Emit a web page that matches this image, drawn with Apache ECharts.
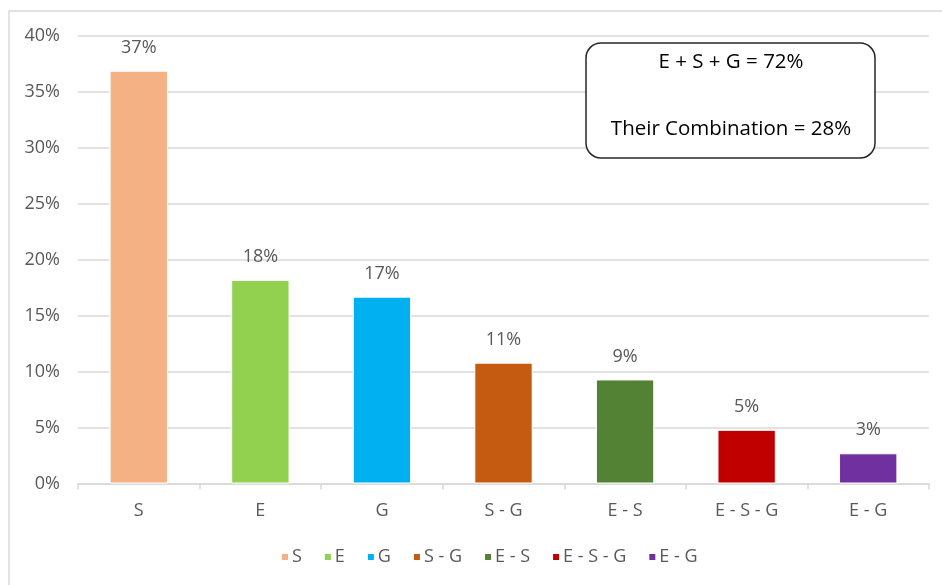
<!DOCTYPE html>
<html>
<head>
<meta charset="utf-8">
<script src="https://cdn.jsdelivr.net/npm/echarts@6/dist/echarts.min.js"></script>
<style>
html,body{margin:0;padding:0;background:#fff;}
#chart{width:942px;height:585px;}
</style>
</head>
<body>
<div id="chart"></div>
<script>
var categories = ['S', 'E', 'G', 'S - G', 'E - S', 'E - S - G', 'E - G'];
var values = [36.9, 18.2, 16.7, 10.8, 9.3, 4.8, 2.7];
var colors = ['#F4B183', '#92D050', '#00B0F0', '#C55A11', '#548235', '#C00000', '#7030A0'];
var yTicks = [0, 5, 10, 15, 20, 25, 30, 35, 40];
var noteLines = ['E + S + G = 72%', 'Their Combination = 28%'];

var FONT = 'Open Sans';
var series = categories.map(function (name, i) {
  return {
    name: name,
    type: 'bar',
    stack: 'all',
    barWidth: '48%',
    itemStyle: { color: colors[i], borderColor: '#fff', borderWidth: 1 },
    label: {
      show: true, position: 'top', distance: 14,
      color: '#595959', fontFamily: FONT, fontSize: 18,
      formatter: function (p) { return Math.round(p.value) + '%'; }
    },
    data: categories.map(function (c, j) { return j === i ? values[i] : null; })
  };
});

var chart = echarts.init(document.getElementById('chart'));
chart.setOption({
  animation: false,
  color: colors,
  grid: { left: 78, right: 13, top: 36, bottom: 101.5, containLabel: false },
  legend: {
    bottom: 19, left: 280, padding: 0, icon: 'rect', itemWidth: 8, itemHeight: 8, itemGap: 21,
    textStyle: { color: '#595959', fontFamily: FONT, fontSize: 18, padding: [0, 0, 0, -2] },
    data: categories
  },
  xAxis: {
    type: 'category', data: categories,
    axisLine: { lineStyle: { color: '#d9d9d9', width: 1.5 } },
    axisTick: { show: true, length: 6, lineStyle: { color: '#d9d9d9', width: 1.5 } },
    axisLabel: { color: '#595959', fontFamily: FONT, fontSize: 18, margin: 18 }
  },
  yAxis: {
    type: 'value', min: yTicks[0], max: yTicks[yTicks.length - 1], interval: 5,
    axisLine: { show: false }, axisTick: { show: false },
    splitLine: { lineStyle: { color: '#d9d9d9', width: 1.5 } },
    axisLabel: { color: '#595959', fontFamily: FONT, fontSize: 18, margin: 18,
      formatter: function (v) { return v + '%'; } }
  },
  graphic: [
    { type: 'rect', silent: true, shape: { x: 9, y: 11, width: 980, height: 640 },
      style: { fill: 'none', stroke: '#d9d9d9', lineWidth: 1.5 } },
    { type: 'rect', shape: { x: 586, y: 43, width: 289, height: 115, r: 15 },
      style: { fill: '#fff', stroke: '#262626', lineWidth: 1.5 }, z: 10 },
    { type: 'text', x: 731, y: 62, z: 11,
      style: { text: noteLines[0], fill: '#000', font: '20.5px "Open Sans"', align: 'center', verticalAlign: 'middle' } },
    { type: 'text', x: 731, y: 129, z: 11,
      style: { text: noteLines[1], fill: '#000', font: '20.5px "Open Sans"', align: 'center', verticalAlign: 'middle' } }
  ],
  series: series
});
</script>
</body>
</html>
